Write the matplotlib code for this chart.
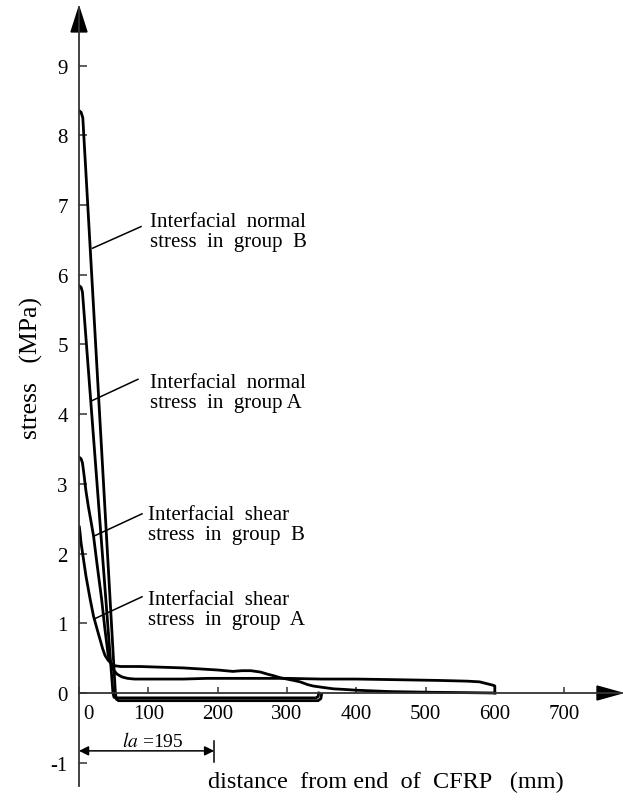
import matplotlib
matplotlib.use("Agg")
import matplotlib.pyplot as plt
from matplotlib.patches import Polygon
from matplotlib.transforms import ScaledTranslation

plt.rcParams['font.family'] = ['Liberation Serif', 'DejaVu Serif']
plt.rcParams['mathtext.fontset'] = 'stix'
plt.rcParams['axes.unicode_minus'] = False

# distance from end of CFRP (mm) and stress (MPa)
dist_normal_b = [0.5, 3, 5.5, 52.5, 54, 57, 345, 349, 350]
normal_b = [8.35, 8.33, 8.25, 0.0, -0.09, -0.11, -0.11, -0.08, -0.02]

dist_normal_a = [0.5, 3, 5, 49, 50.5, 53, 342, 345, 346]
normal_a = [5.84, 5.82, 5.75, 0.0, -0.06, -0.07, -0.07, -0.05, 0.0]

dist_shear_b = [0.5, 3, 5, 7, 10, 13.4, 17, 21, 26, 32.6, 37, 42, 46, 49, 55, 62, 70, 80,
                100, 150, 185, 250, 300, 350, 400, 463, 520, 560, 578, 590, 598, 600, 600]
shear_b = [3.38, 3.36, 3.3, 3.15, 2.9, 2.68, 2.48, 2.25, 1.85, 1.35, 0.95, 0.55, 0.42, 0.34,
           0.27, 0.23, 0.21, 0.2, 0.2, 0.2, 0.21, 0.21, 0.21, 0.2, 0.2, 0.19, 0.18, 0.17,
           0.16, 0.13, 0.11, 0.1, 0.0]

dist_shear_a = [0.5, 1.5, 3, 6, 10, 16, 21, 26, 30, 34, 37.5, 42, 47, 52, 60, 88, 150, 200,
                222, 235, 248, 262, 272, 280, 290, 300, 310, 319, 330, 338, 352, 367, 385,
                400, 450, 510, 560, 600]
shear_a = [2.38, 2.3, 2.15, 1.95, 1.68, 1.35, 1.1, 0.92, 0.78, 0.64, 0.54, 0.47, 0.42, 0.39,
           0.38, 0.38, 0.36, 0.33, 0.31, 0.32, 0.32, 0.3, 0.27, 0.25, 0.22, 0.2, 0.18, 0.16,
           0.12, 0.1, 0.08, 0.06, 0.05, 0.04, 0.02, 0.01, 0.005, 0.0]

x_ticks = [0, 100, 200, 300, 400, 500, 600, 700]
y_ticks = [-1, 0, 1, 2, 3, 4, 5, 6, 7, 8, 9]

# label text, anchor (x, y) of the text, leader line start/end
labels = [
    ("Interfacial  normal\nstress  in  group  B", (102.5, 6.62), (19.5, 6.38), (89.5, 6.69)),
    ("Interfacial  normal\nstress  in  group A", (102.5, 4.31), (18.0, 4.19), (85.1, 4.50)),
    ("Interfacial  shear\nstress  in  group  B", (99.6, 2.42), (21.5, 2.25), (90.9, 2.57)),
    ("Interfacial  shear\nstress  in  group  A", (99.6, 1.20), (21.5, 1.06), (90.9, 1.38)),
]
la_value = 195

fig = plt.figure(figsize=(6.23, 8.03), dpi=100)
ax = fig.add_axes([79 / 623, 16 / 803, 543 / 623, 779 / 803])
ax.set_xlim(0, 783.5)
ax.set_ylim(-1.334, 9.84)

axis_col = '#333333'
for s in ['top', 'right']:
    ax.spines[s].set_visible(False)
ax.spines['bottom'].set_position(('data', 0))
ax.spines['left'].set_linewidth(1.3)
ax.spines['bottom'].set_linewidth(1.3)
ax.spines['left'].set_color(axis_col)
ax.spines['bottom'].set_color(axis_col)

# arrow heads at the ends of the axes
ax.add_patch(Polygon([[1.0, 0.0], [0.954, 0.1], [0.954, -0.1]], closed=True,
                     transform=ax.get_yaxis_transform(), color='k', clip_on=False))
ax.add_patch(Polygon([[0.0, 1.0], [-11.5, 0.968], [11.5, 0.968]], closed=True,
                     transform=ax.get_xaxis_transform(), color='k', clip_on=False))

lw = 2.0
ax.plot(dist_normal_b, normal_b, color='k', lw=lw, solid_joinstyle='round')
ax.plot(dist_normal_a, normal_a, color='k', lw=lw, solid_joinstyle='round')
ax.plot(dist_shear_b, shear_b, color='k', lw=lw, solid_joinstyle='round')
ax.plot(dist_shear_a, shear_a, color='k', lw=lw, solid_joinstyle='round')

ax.set_xticks(x_ticks)
ax.set_xticklabels([str(v) for v in x_ticks])
ax.set_yticks(y_ticks)
ax.set_yticklabels([str(v) for v in y_ticks])
ax.tick_params(axis='x', direction='in', length=4, width=1.1, color=axis_col,
               labelsize=15, pad=8)
ax.tick_params(axis='y', direction='in', length=6, width=1.1, color=axis_col,
               labelsize=15, pad=8)
lab0 = ax.get_xticklabels()[0]
lab0.set_transform(lab0.get_transform() + ScaledTranslation(7 / 72, 0, fig.dpi_scale_trans))

for text, (tx, ty), p0, p1 in labels:
    ax.text(tx, ty, text, fontsize=15, ha='left', va='center', linespacing=1.1)
    ax.plot([p0[0], p1[0]], [p0[1], p1[1]], color='k', lw=1.1)

# anchorage length annotation
ax.annotate('', xy=(0, -0.83), xytext=(la_value, -0.83),
            arrowprops=dict(arrowstyle='<|-|>', color='k', lw=1.1,
                            shrinkA=0, shrinkB=0, mutation_scale=14),
            annotation_clip=False)
ax.plot([la_value, la_value], [-0.69, -0.99], color='k', lw=1.1, clip_on=False)
ax.text(106, -0.68, r'$\mathit{la}$ =195', fontsize=14, ha='center', va='center')

fig.text(386 / 623, 1 - 782 / 803, 'distance  from end  of  CFRP   (mm)',
         fontsize=17.5, ha='center', va='center')
fig.text(31 / 623, 1 - 368 / 803, 'stress   (MPa)', fontsize=18.5, rotation=90,
         ha='center', va='center')

fig.savefig('out.png', dpi=100)
